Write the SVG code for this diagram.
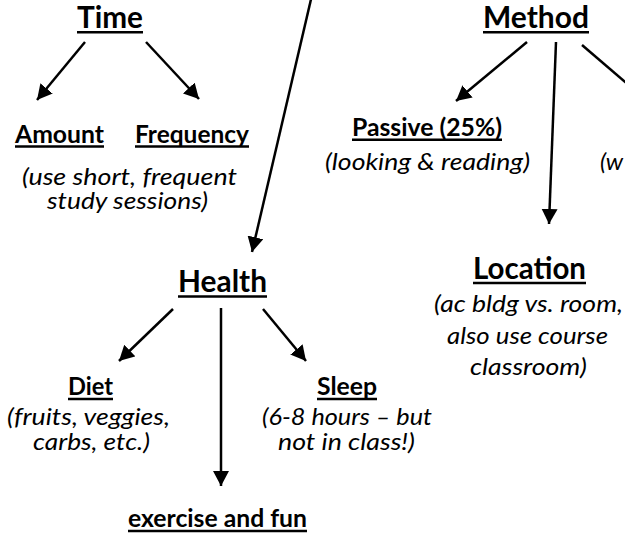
<svg xmlns="http://www.w3.org/2000/svg" width="625" height="535" viewBox="0 0 625 535">
<style>
text{font-family:Lato,"Noto Sans","Liberation Sans",sans-serif;fill:#000;text-anchor:middle}
.h{font-weight:bold;font-size:29.5px}
.s{font-weight:bold;font-size:24px}
.i{font-style:italic;font-size:24px}
.u{stroke:#000;stroke-width:2.4}
.c line{stroke:#000;stroke-width:2.5;marker-end:url(#ah)}
</style>
<defs>
<marker id="ah" markerUnits="userSpaceOnUse" markerWidth="16" markerHeight="17" refX="15" refY="8" orient="auto" viewBox="0 0 16 17">
<path d="M0,0 L15,8 L0,16 z" fill="#000"/>
</marker>
</defs>
<rect width="625" height="535" fill="#fff"/>
<g class="c" id="connectors">
<line x1="85" y1="42" x2="37" y2="100"/>
<line x1="146" y1="42" x2="199" y2="99"/>
<line x1="312" y1="-5" x2="252" y2="252"/>
<line x1="527" y1="42" x2="456" y2="101"/>
<line x1="556" y1="42" x2="549" y2="224"/>
<line x1="582" y1="45" x2="665" y2="116"/>
<line x1="173" y1="309" x2="119" y2="361"/>
<line x1="221" y1="308" x2="221" y2="486"/>
<line x1="263" y1="309" x2="306" y2="361"/>
</g>
<g id="time">
<text class="h" x="110" y="28" textLength="66" lengthAdjust="spacingAndGlyphs">Time</text>
<line class="u" x1="77" y1="32.3" x2="143" y2="32.3"/>
</g>
<g id="amount">
<text class="s" x="59.5" y="143" textLength="89" lengthAdjust="spacingAndGlyphs">Amount</text>
<line class="u" x1="15" y1="146.5" x2="104" y2="146.5"/>
</g>
<g id="frequency">
<text class="s" x="192" y="143" textLength="114" lengthAdjust="spacingAndGlyphs">Frequency</text>
<line class="u" x1="135" y1="146.5" x2="249" y2="146.5"/>
<text class="i"><tspan x="129.5" y="185" textLength="215" lengthAdjust="spacingAndGlyphs">(use short, frequent</tspan><tspan x="127.5" y="208.5" textLength="161" lengthAdjust="spacingAndGlyphs">study sessions)</tspan></text>
</g>
<g id="method">
<text class="h" x="536" y="28" textLength="106" lengthAdjust="spacingAndGlyphs">Method</text>
<line class="u" x1="483" y1="32.3" x2="589" y2="32.3"/>
</g>
<g id="passive">
<text class="s" x="427" y="136" textLength="150" lengthAdjust="spacingAndGlyphs">Passive (25%)</text>
<line class="u" x1="352" y1="139.8" x2="502" y2="139.8"/>
<text class="i" x="427.5" y="170" textLength="205" lengthAdjust="spacingAndGlyphs">(looking &amp; reading)</text>
</g>
<g id="active">
<text class="i" x="600" y="170" style="text-anchor:start">(w</text>
</g>
<g id="location">
<text class="h" x="529.5" y="279" textLength="113" lengthAdjust="spacingAndGlyphs">Location</text>
<line class="u" x1="473" y1="283" x2="586" y2="283"/>
<text class="i"><tspan x="528.5" y="312" textLength="189" lengthAdjust="spacingAndGlyphs">(ac bldg vs. room,</tspan><tspan x="527.5" y="343.5" textLength="161" lengthAdjust="spacingAndGlyphs">also use course</tspan><tspan x="528.5" y="375" textLength="117" lengthAdjust="spacingAndGlyphs">classroom)</tspan></text>
</g>
<g id="health">
<text class="h" x="222.5" y="292" textLength="89" lengthAdjust="spacingAndGlyphs">Health</text>
<line class="u" x1="178" y1="296.5" x2="267" y2="296.5"/>
</g>
<g id="diet">
<text class="s" x="90.5" y="395" textLength="45" lengthAdjust="spacingAndGlyphs">Diet</text>
<line class="u" x1="68" y1="399" x2="113" y2="399"/>
<text class="i"><tspan x="88.5" y="425" textLength="163" lengthAdjust="spacingAndGlyphs">(fruits, veggies,</tspan><tspan x="91.5" y="450" textLength="117" lengthAdjust="spacingAndGlyphs">carbs, etc.)</tspan></text>
</g>
<g id="sleep">
<text class="s" x="347" y="395" textLength="60" lengthAdjust="spacingAndGlyphs">Sleep</text>
<line class="u" x1="317" y1="399" x2="377" y2="399"/>
<text class="i"><tspan x="347" y="425" textLength="170" lengthAdjust="spacingAndGlyphs">(6-8 hours – but</tspan><tspan x="346.5" y="450" textLength="137" lengthAdjust="spacingAndGlyphs">not in class!)</tspan></text>
</g>
<g id="exercise">
<text class="s" x="217.5" y="527" textLength="179" lengthAdjust="spacingAndGlyphs">exercise and fun</text>
<line class="u" x1="128" y1="531" x2="307" y2="531"/>
</g>
</svg>
